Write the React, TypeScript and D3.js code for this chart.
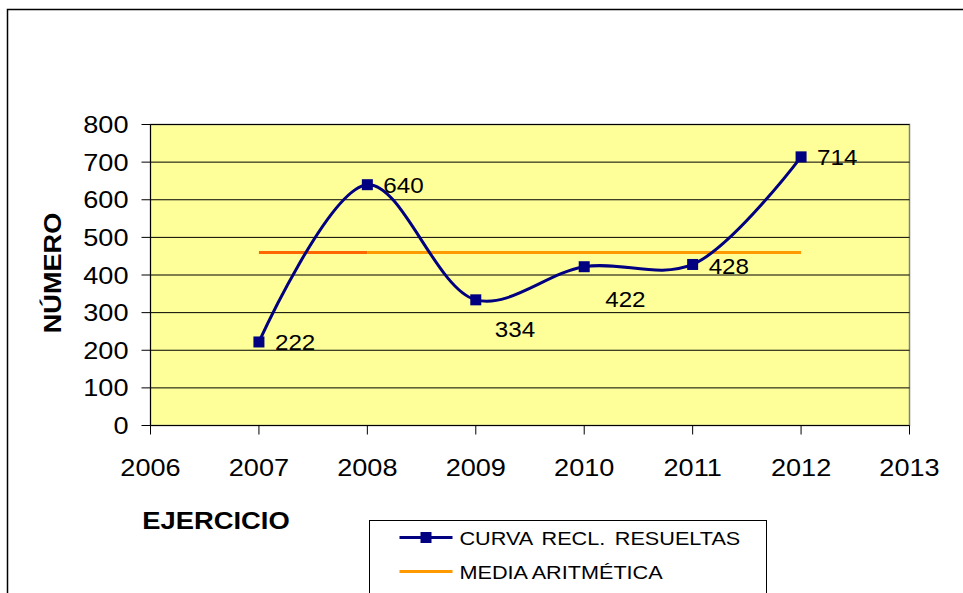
import React from "react";
import * as d3 from "d3";

const years = [2007, 2008, 2009, 2010, 2011, 2012];
const resueltas = [222, 640, 334, 422, 428, 714];
const media = 460;
const yTicks = [0, 100, 200, 300, 400, 500, 600, 700, 800];
const xTicks = [2006, 2007, 2008, 2009, 2010, 2011, 2012, 2013];
// where each value label sits relative to its marker
const labelDx = [16, 16, 19, 21, 16, 16];
const labelDy = [8, 8, 37, 40, 10, 8];

const W = 963;
const H = 593;
const m = { left: 150.5, top: 124.5, right: 909.5, bottom: 425.5 };
const FONT = "Liberation Sans, Arial, sans-serif";

const SText = ({ x, y, size, anchor = "start", bold = false, sx = 1.13, children, rotate = 0, ws = 0 }: any) => (
  <text
    transform={`translate(${x},${y}) rotate(${rotate}) scale(${sx},1)`}
    fontFamily={FONT}
    fontSize={size}
    fontWeight={bold ? "bold" : "normal"}
    textAnchor={anchor}
    wordSpacing={ws}
    fill="#000"
  >
    {children}
  </text>
);

export default function App() {
  const x = d3.scaleLinear().domain([2006, 2013]).range([m.left, m.right]);
  const y = d3.scaleLinear().domain([0, 800]).range([m.bottom, m.top]);

  const pts: [number, number][] = years.map((yr, i) => [x(yr), y(resueltas[i])]);
  const line = d3.line().curve(d3.curveCatmullRom.alpha(0.5));
  const path = line(pts) || "";

  const legX = 369.5;
  const legY = 520.5;

  return (
    <svg
      width={W}
      height={H}
      style={{ position: "absolute", left: 0, top: 0, background: "#fff" }}
    >
      {/* chart frame */}
      <rect x={7.5} y={9.5} width={W} height={H} fill="#fff" stroke="#000" strokeWidth={1.5} />

      {/* plot area */}
      <rect
        x={m.left}
        y={m.top}
        width={m.right - m.left}
        height={m.bottom - m.top}
        fill="#FFFF99"
        stroke="#808080"
        strokeWidth={1.5}
      />
      {yTicks.slice(1).map((t) => (
        <line key={t} x1={m.left} x2={m.right} y1={y(t)} y2={y(t)} stroke="#000" strokeWidth={1} />
      ))}

      {/* axes */}
      <line x1={m.left} x2={m.left} y1={m.top} y2={m.bottom} stroke="#000" strokeWidth={1} />
      <line x1={m.left} x2={m.right} y1={m.bottom} y2={m.bottom} stroke="#000" strokeWidth={1} />
      {yTicks.map((t) => (
        <g key={t}>
          <line x1={m.left - 9} x2={m.left} y1={y(t)} y2={y(t)} stroke="#000" />
          <SText x={m.left - 22} y={y(t) + 8.5} size={24} anchor="end">
            {t}
          </SText>
        </g>
      ))}
      {xTicks.map((t) => (
        <g key={t}>
          <line x1={x(t)} x2={x(t)} y1={m.bottom} y2={m.bottom + 9} stroke="#000" />
          <SText x={x(t)} y={476} size={24} anchor="middle">
            {t}
          </SText>
        </g>
      ))}

      {/* axis titles */}
      <SText x={216} y={529} size={24} anchor="middle" bold sx={1.14}>
        EJERCICIO
      </SText>
      <SText x={61} y={273} size={24} anchor="middle" bold sx={1.13} rotate={-90}>
        NÚMERO
      </SText>

      {/* arithmetic mean */}
      <line x1={x(years[0])} x2={x(years[1])} y1={y(media)} y2={y(media)} stroke="#FF6600" strokeWidth={3} />
      <line
        x1={x(years[1])}
        x2={x(years[years.length - 1])}
        y1={y(media)}
        y2={y(media)}
        stroke="#FF9900"
        strokeWidth={3}
      />

      {/* resolved claims curve */}
      <path d={path} fill="none" stroke="#000080" strokeWidth={3} />
      {pts.map(([px, py], i) => (
        <rect key={i} x={px - 5.5} y={py - 5.5} width={11} height={11} fill="#000080" />
      ))}
      {pts.map(([px, py], i) => (
        <SText key={i} x={px + labelDx[i]} y={py + labelDy[i]} size={22} sx={1.1}>
          {resueltas[i]}
        </SText>
      ))}

      {/* legend */}
      <rect x={legX} y={legY} width={397} height={80} fill="#fff" stroke="#000" strokeWidth={1} />
      <line x1={legX + 30} x2={legX + 83} y1={legY + 17} y2={legY + 17} stroke="#000080" strokeWidth={3} />
      <rect x={legX + 51} y={legY + 11.5} width={11} height={11} fill="#000080" />
      <SText x={legX + 90} y={legY + 24} size={18.5} sx={1.17} ws={3}>
        CURVA RECL. RESUELTAS
      </SText>
      <line x1={legX + 30} x2={legX + 83} y1={legY + 51} y2={legY + 51} stroke="#FF9900" strokeWidth={3} />
      <SText x={legX + 90} y={legY + 58} size={18.5} sx={1.17}>
        MEDIA ARITMÉTICA
      </SText>
    </svg>
  );
}
